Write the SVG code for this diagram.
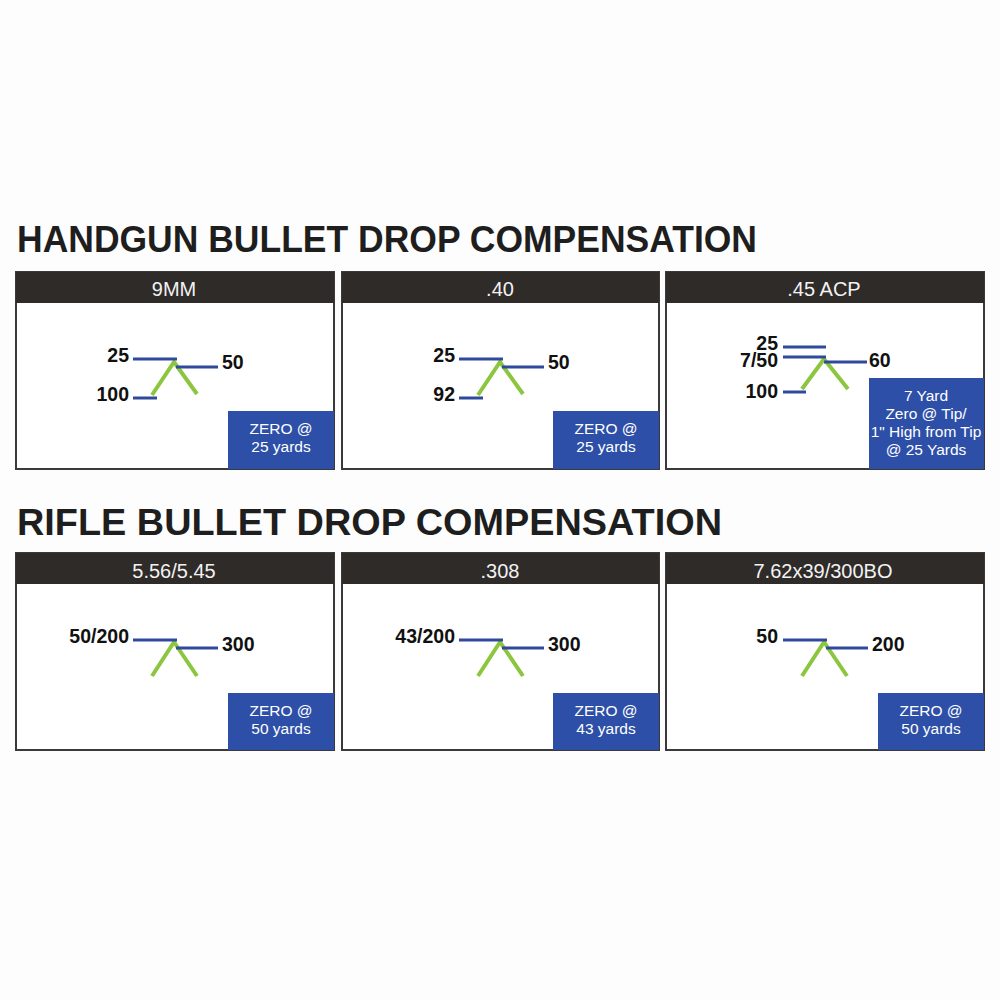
<svg xmlns="http://www.w3.org/2000/svg" width="1000" height="1000" viewBox="0 0 1000 1000">
<style>
.bg{fill:#fdfdfd}
.title{font-family:"Liberation Sans",Arial,sans-serif;font-weight:bold;font-size:36px;fill:#1e1e1e}
.frame{fill:#ffffff;stroke:#3a3a3a;stroke-width:2}
.hdr{fill:#2e2b29}
.hdrt{font-family:"Liberation Sans",Arial,sans-serif;font-size:20px;fill:#f2f2f2;text-anchor:middle}
.box{fill:#2d4fa8}
.boxt{font-family:"Liberation Sans",Arial,sans-serif;font-size:15.5px;fill:#ffffff;text-anchor:middle}
.bl{stroke:#2f4a9c;stroke-width:3;fill:none}
.gr{stroke:#8cc63f;stroke-width:4;fill:none}
.lab{font-family:"Liberation Sans",Arial,sans-serif;font-weight:bold;font-size:19.5px;fill:#111111}
.end{text-anchor:end}
</style>
<rect class="bg" x="0" y="0" width="1000" height="1000"/>
<text class="title" x="17" y="252" textLength="740" lengthAdjust="spacingAndGlyphs">HANDGUN BULLET DROP COMPENSATION</text>
<text class="title" x="17" y="535" textLength="705" lengthAdjust="spacingAndGlyphs">RIFLE BULLET DROP COMPENSATION</text>

<g id="panel-9mm" transform="translate(16,272)">
<rect class="frame" x="0" y="0" width="318" height="197"/>
<rect class="hdr" x="0" y="0" width="318" height="31"/>
<text class="hdrt" x="158" y="24">9MM</text>
<polyline class="gr" points="136,123 158,90 181,122"/>
<line class="bl" x1="117" y1="87" x2="161" y2="87"/>
<line class="bl" x1="160" y1="95" x2="202" y2="95"/>
<line class="bl" x1="117" y1="126" x2="141" y2="126"/>
<text class="lab end" x="113" y="90">25</text>
<text class="lab" x="206" y="97">50</text>
<text class="lab end" x="113" y="129">100</text>
<rect class="box" x="212" y="139" width="106" height="58"/>
<text class="boxt" x="265" y="162">ZERO @</text>
<text class="boxt" x="265" y="180">25 yards</text>
</g>

<g id="panel-40" transform="translate(342,272)">
<rect class="frame" x="0" y="0" width="317" height="197"/>
<rect class="hdr" x="0" y="0" width="317" height="31"/>
<text class="hdrt" x="158" y="24">.40</text>
<polyline class="gr" points="136,123 158,90 181,122"/>
<line class="bl" x1="117" y1="87" x2="161" y2="87"/>
<line class="bl" x1="160" y1="95" x2="202" y2="95"/>
<line class="bl" x1="117" y1="126" x2="141" y2="126"/>
<text class="lab end" x="113" y="90">25</text>
<text class="lab" x="206" y="97">50</text>
<text class="lab end" x="113" y="129">92</text>
<rect class="box" x="211" y="139" width="106" height="58"/>
<text class="boxt" x="264" y="162">ZERO @</text>
<text class="boxt" x="264" y="180">25 yards</text>
</g>

<g id="panel-45acp" transform="translate(666,272)">
<rect class="frame" x="0" y="0" width="318" height="197"/>
<rect class="hdr" x="0" y="0" width="318" height="31"/>
<text class="hdrt" x="158" y="24">.45 ACP</text>
<polyline class="gr" points="136,117 158,87 182,117"/>
<line class="bl" x1="117" y1="75" x2="160" y2="75"/>
<line class="bl" x1="117" y1="85" x2="160" y2="85"/>
<line class="bl" x1="158" y1="90" x2="201" y2="90"/>
<line class="bl" x1="117" y1="120" x2="140" y2="120"/>
<text class="lab end" x="112" y="78">25</text>
<text class="lab end" x="112" y="95">7/50</text>
<text class="lab" x="203" y="95">60</text>
<text class="lab end" x="112" y="126">100</text>
<rect class="box" x="203" y="106" width="115" height="91"/>
<text class="boxt" x="260" y="129">7 Yard</text>
<text class="boxt" x="260" y="147">Zero @ Tip/</text>
<text class="boxt" x="260" y="165">1" High from Tip</text>
<text class="boxt" x="260" y="183">@ 25 Yards</text>
</g>

<g id="panel-556" transform="translate(16,553)">
<rect class="frame" x="0" y="0" width="318" height="197"/>
<rect class="hdr" x="0" y="0" width="318" height="31"/>
<text class="hdrt" x="158" y="25">5.56/5.45</text>
<polyline class="gr" points="136,123 158,89 181,123"/>
<line class="bl" x1="117" y1="87" x2="161" y2="87"/>
<line class="bl" x1="160" y1="95" x2="202" y2="95"/>
<text class="lab end" x="113" y="90">50/200</text>
<text class="lab" x="206" y="98">300</text>
<rect class="box" x="212" y="140" width="106" height="57"/>
<text class="boxt" x="265" y="163">ZERO @</text>
<text class="boxt" x="265" y="181">50 yards</text>
</g>

<g id="panel-308" transform="translate(342,553)">
<rect class="frame" x="0" y="0" width="317" height="197"/>
<rect class="hdr" x="0" y="0" width="317" height="31"/>
<text class="hdrt" x="158" y="25">.308</text>
<polyline class="gr" points="136,123 158,89 181,123"/>
<line class="bl" x1="117" y1="87" x2="161" y2="87"/>
<line class="bl" x1="160" y1="95" x2="202" y2="95"/>
<text class="lab end" x="113" y="90">43/200</text>
<text class="lab" x="206" y="98">300</text>
<rect class="box" x="211" y="140" width="106" height="57"/>
<text class="boxt" x="264" y="163">ZERO @</text>
<text class="boxt" x="264" y="181">43 yards</text>
</g>

<g id="panel-762" transform="translate(666,553)">
<rect class="frame" x="0" y="0" width="318" height="197"/>
<rect class="hdr" x="0" y="0" width="318" height="31"/>
<text class="hdrt" x="157" y="25">7.62x39/300BO</text>
<polyline class="gr" points="136,123 158,89 181,123"/>
<line class="bl" x1="117" y1="87" x2="161" y2="87"/>
<line class="bl" x1="160" y1="95" x2="202" y2="95"/>
<text class="lab end" x="112" y="90">50</text>
<text class="lab" x="206" y="98">200</text>
<rect class="box" x="212" y="140" width="106" height="57"/>
<text class="boxt" x="265" y="163">ZERO @</text>
<text class="boxt" x="265" y="181">50 yards</text>
</g>
</svg>
